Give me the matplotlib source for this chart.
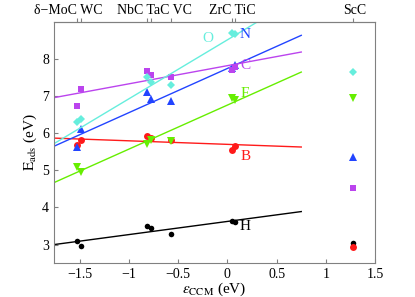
import numpy as np
import matplotlib
matplotlib.use('Agg')
import matplotlib.pyplot as plt

plt.rcParams['font.family'] = ['Liberation Serif', 'DejaVu Serif']
plt.rcParams['mathtext.fontset'] = 'stix'

# 碳化物的 ε_CCM (eV)
materials = ['δ−MoC', 'WC', 'NbC', 'TaC', 'VC', 'ZrC', 'TiC', 'ScC']
eps_ccm = np.array([-1.53, -1.49, -0.815, -0.78, -0.567, 0.046, 0.074, 1.274])

# 各吸附物的 E_ads (eV)，順序同 materials
E_H = [3.10, 2.96, 3.49, 3.45, 3.29, 3.64, 3.62, 3.03]
E_B = [5.69, 5.83, 5.93, 5.88, 5.83, 5.55, 5.66, 2.93]
E_F = [5.08, 4.95, 5.72, 5.83, 5.78, 6.95, 6.89, 6.94]
E_N = [5.62, 6.12, 7.10, 6.92, 6.86, 7.75, 7.83, 5.36]
E_C = [6.74, 7.20, 7.69, 7.58, 7.51, 7.70, 7.80, 4.52]
E_O = [6.31, 6.38, 7.51, 7.37, 7.31, 8.70, 8.68, 7.65]

# 擬合線兩端的值 (x = -1.76 與 x = 0.75)
fit_x = [-1.76, 0.75]
fit_H = [3.00, 3.89]
fit_B = [5.87, 5.63]
fit_F = [4.67, 7.65]
fit_N = [5.65, 8.64]
fit_C = [6.96, 8.19]
fit_O = [5.72, 9.71]

series = [
    ('H', E_H, fit_H, 'black', 'o', 4),
    ('B', E_B, fit_B, '#ff1a1a', 'o', 5),
    ('F', E_F, fit_F, '#66ee00', 'v', 6),
    ('N', E_N, fit_N, '#2244ff', '^', 6),
    ('C', E_C, fit_C, '#bb44ee', 's', 4.5),
    ('O', E_O, fit_O, '#66eedd', 'D', 4.5),
]

fig = plt.figure(figsize=(4.15, 2.97), dpi=100)
ax = fig.add_axes([0.130, 0.114, 0.774, 0.812])

for name, vals, fit, color, marker, ms in series:
    ax.plot(fit_x, fit, color=color, linewidth=1)
    ax.plot(eps_ccm, vals, linestyle='none', marker=marker, color=color,
            markersize=ms, markeredgewidth=0)

# 曲線標籤
ax.text(-0.2, 8.56, 'O', color='#66eedd', fontsize=11, ha='center', va='center')
ax.text(0.18, 8.66, 'N', color='#2244ff', fontsize=11, ha='center', va='center')
ax.text(0.18, 7.83, 'C', color='#bb44ee', fontsize=11, ha='center', va='center')
ax.text(0.18, 7.06, 'F', color='#66ee00', fontsize=11, ha='center', va='center')
ax.text(0.18, 5.38, 'B', color='#ff1a1a', fontsize=11, ha='center', va='center')
ax.text(0.18, 3.49, 'H', color='black', fontsize=11, ha='center', va='center')

ax.set_xlim(-1.76, 1.5)
ax.set_ylim(2.5, 9)
ax.set_xticks([-1.5, -1, -0.5, 0, 0.5, 1, 1.5])
ax.set_xticklabels(['−1.5', '−1', '−0.5', '0', '0.5', '1', '1.5'])
ax.set_yticks([3, 4, 5, 6, 7, 8])
ax.tick_params(direction='in', length=3, labelsize=10, color='gray')
for s in ax.spines.values():
    s.set_color('gray')

ax.set_xlabel(r'$\epsilon_{\rm CCM}$ (eV)', fontsize=11, labelpad=0)
ax.set_ylabel(r'$\rm E_{ads}$ (eV)', fontsize=11, labelpad=2)

# 上方材料刻度
top = ax.secondary_xaxis('top')
top.set_xticks(eps_ccm)
top.set_xticklabels([])
top.tick_params(direction='out', length=3, color='gray')
top.spines['top'].set_color('gray')
groups = [('δ−MoC WC', -1.61), ('NbC TaC VC', -0.74), ('ZrC TiC', 0.05), ('ScC', 1.29)]
for label, xg in groups:
    ax.text(xg, 1.02, label, transform=ax.get_xaxis_transform(),
            ha='center', va='bottom', fontsize=10)

fig.savefig('out.png', dpi=100)
